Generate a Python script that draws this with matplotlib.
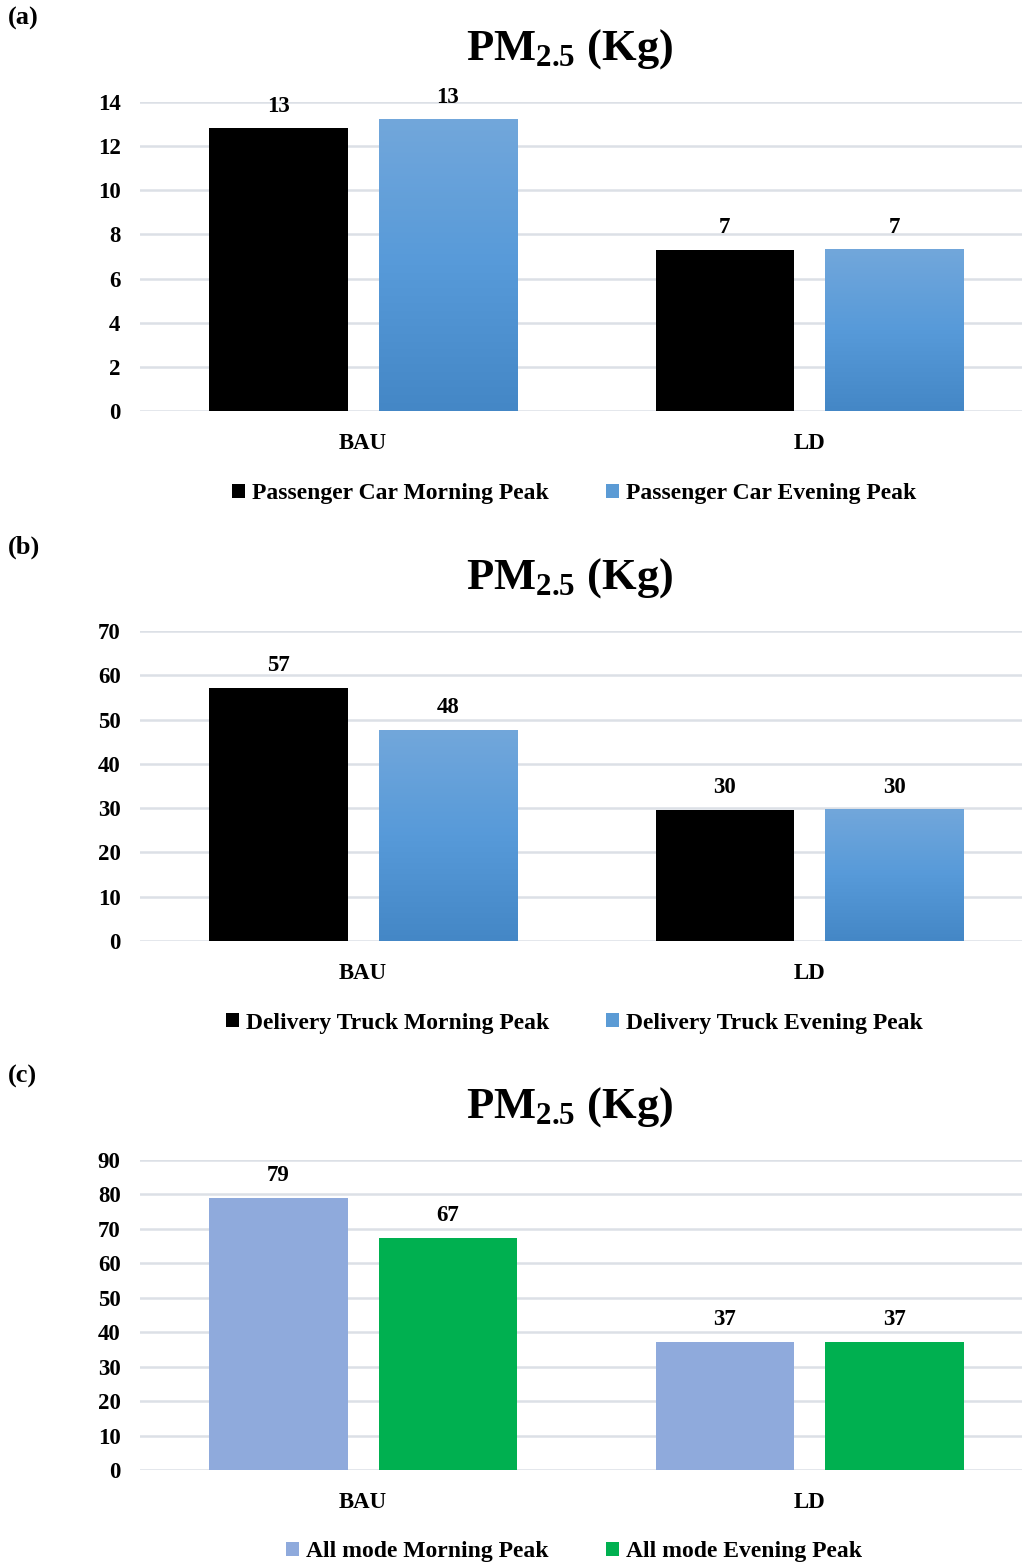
import numpy as np
import matplotlib
matplotlib.use("Agg")
import matplotlib.pyplot as plt
from matplotlib.colors import LinearSegmentedColormap
from matplotlib.patches import Patch

# ---- data ----
categories = ["BAU", "LD"]

car_morning = [12.8, 7.3]
car_evening = [13.2, 7.3]
car_labels_morning = ["13", "7"]
car_labels_evening = ["13", "7"]

truck_morning = [57.1, 29.6]
truck_evening = [47.6, 29.6]
truck_labels_morning = ["57", "30"]
truck_labels_evening = ["48", "30"]

all_morning = [78.9, 37.2]
all_evening = [67.3, 37.2]
all_labels_morning = ["79", "37"]
all_labels_evening = ["67", "37"]

panels = [
    dict(tag="(a)", series=(car_morning, car_evening),
         labels=(car_labels_morning, car_labels_evening),
         names=("Passenger Car Morning Peak", "Passenger Car Evening Peak"),
         colors=("#000000", "gradient"), ymax=14, step=2),
    dict(tag="(b)", series=(truck_morning, truck_evening),
         labels=(truck_labels_morning, truck_labels_evening),
         names=("Delivery Truck Morning Peak", "Delivery Truck Evening Peak"),
         colors=("#000000", "gradient"), ymax=70, step=10),
    dict(tag="(c)", series=(all_morning, all_evening),
         labels=(all_labels_morning, all_labels_evening),
         names=("All mode Morning Peak", "All mode Evening Peak"),
         colors=("#8FAADC", "#00B050"), ymax=90, step=10),
]

# ---- style ----
plt.rcParams["font.family"] = ["Liberation Serif", "DejaVu Serif"]
plt.rcParams["font.weight"] = "bold"
plt.rcParams["mathtext.fontset"] = "custom"
plt.rcParams["mathtext.rm"] = "Liberation Serif:bold"
plt.rcParams["mathtext.bf"] = "Liberation Serif:bold"
plt.rcParams["mathtext.it"] = "Liberation Serif:bold:italic"

W, H = 1022, 1565
DPI = 100
fig = plt.figure(figsize=(W / DPI, H / DPI), dpi=DPI)

blue_grad = LinearSegmentedColormap.from_list(
    "bluegrad", ["#4487C6", "#579AD9", "#72A7DB"])
blue_mid = "#5B9BD5"
grid_color = "#DCE0E6"

FS_TICK = 16.5
FS_LEGEND = 17
FS_TAG = 19
FS_TITLE = 32

# pixel geometry of the three plot areas (top, bottom of y range)
ax_left, ax_right = 140, 1022
rows = [(102, 411), (631, 941), (1160, 1470)]
offsets = [0, 529, 1058]

bar_w = 0.31
shift = 0.19
x = np.arange(len(categories))


def fx(px):
    return px / W


def fy(py):
    return 1 - py / H


for p, (top, bot), off in zip(panels, rows, offsets):
    ax = fig.add_axes([fx(ax_left), fy(bot), fx(ax_right - ax_left), (bot - top) / H])
    ax.set_ylim(0, p["ymax"])
    ax.set_xlim(-0.5, 1.476)
    ax.set_yticks(np.arange(0, p["ymax"] + 1, p["step"]))
    ax.set_xticks(x)
    ax.set_xticklabels(categories)
    ax.tick_params(length=0, labelsize=FS_TICK, pad=14)
    ax.tick_params(axis="x", pad=16)
    for lbl in ax.get_xticklabels() + ax.get_yticklabels():
        lbl.set_fontweight("bold")
    for s in ax.spines.values():
        s.set_visible(False)
    ax.set_axisbelow(True)
    ax.yaxis.grid(True, color=grid_color, linewidth=1.8)

    handles = []
    for k, (vals, labs, name, col) in enumerate(
            zip(p["series"], p["labels"], p["names"], p["colors"])):
        xpos = x + (2 * k - 1) * shift
        if col == "gradient":
            bars = ax.bar(xpos, vals, width=bar_w, color="none", zorder=2)
            grad = np.linspace(0, 1, 256).reshape(-1, 1)
            for b in bars:
                bx, by = b.get_x(), b.get_y()
                bw, bh = b.get_width(), b.get_height()
                ax.imshow(grad, cmap=blue_grad, origin="lower", aspect="auto",
                          extent=(bx, bx + bw, by, by + bh), zorder=2)
            handles.append(Patch(facecolor=blue_mid, edgecolor="none", label=name))
        else:
            bars = ax.bar(xpos, vals, width=bar_w, color=col, zorder=2)
            handles.append(Patch(facecolor=col, edgecolor="none", label=name))
        for b, lab in zip(bars, labs):
            ax.annotate(lab, (b.get_x() + b.get_width() / 2, b.get_height()),
                        xytext=(0, 8.5), textcoords="offset points",
                        ha="center", va="bottom", fontsize=FS_TICK,
                        fontweight="bold")
    ax.set_xlim(-0.5, 1.476)
    ax.set_ylim(0, p["ymax"])

    # panel tag and title
    fig.text(fx(8), fy(off + 18), p["tag"], ha="left", va="center",
             fontsize=FS_TAG, fontweight="bold")
    fig.text(fx(570), fy(off + 49), r"PM$_{\mathrm{2.5}}$ (Kg)", ha="center",
             va="center", fontsize=FS_TITLE, fontweight="bold")

    # legend
    fig.legend(handles=handles, loc="center",
               bbox_to_anchor=(fx(574), fy(off + 494)), ncol=2, frameon=False,
               prop=dict(size=FS_LEGEND, weight="bold"),
               handlelength=0.55, handleheight=0.55, handletextpad=0.3,
               columnspacing=2.4)

fig.savefig("out.png", dpi=DPI, facecolor="white")
